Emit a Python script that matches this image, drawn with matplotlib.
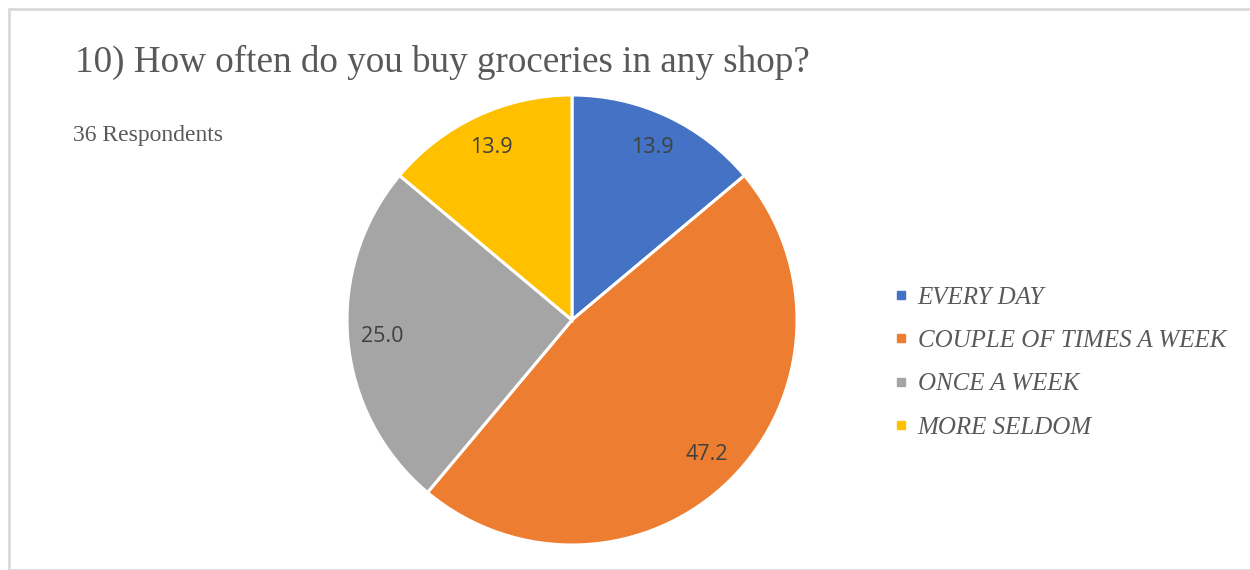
import matplotlib
matplotlib.use("Agg")
import matplotlib.pyplot as plt
from matplotlib.patches import Rectangle
from matplotlib.lines import Line2D

categories = ["EVERY DAY", "COUPLE OF TIMES A WEEK", "ONCE A WEEK", "MORE SELDOM"]
values = [13.9, 47.2, 25.0, 13.9]
colors = ["#4472C4", "#ED7D31", "#A5A5A5", "#FFC000"]
title = "10) How often do you buy groceries in any shop?"
subtitle = "36 Respondents"

W, H = 1250, 570
fig = plt.figure(figsize=(W / 100, H / 100), dpi=100)
fig.patch.set_facecolor("white")

# light chart-area frame
fig.add_artist(Rectangle((8.5 / W, 1 - 569.5 / H), (W + 20) / W, 561 / H,
                         transform=fig.transFigure, fill=False,
                         edgecolor="#d9d9d9", linewidth=2))

cx, cy, r = 572, 320, 225
ax = fig.add_axes([(cx - r) / W, 1 - (cy + r) / H, 2 * r / W, 2 * r / H])
wedges, texts = ax.pie(values, colors=colors, startangle=90, counterclock=False,
                       labels=[f"{v:.1f}" for v in values], labeldistance=0.845,
                       wedgeprops=dict(edgecolor="white", linewidth=2.2),
                       textprops=dict(fontsize=15.5, color="#404040",
                                      family="Open Sans", ha="center", va="center"))
ax.set_xlim(-1, 1)
ax.set_ylim(-1, 1)
ax.set_aspect("equal")
ax.axis("off")

fig.text(75 / W, 1 - 62 / H, title, fontsize=26.75, color="#595959",
         family="Liberation Serif", va="center", ha="left")
fig.text(73 / W, 1 - 136 / H, subtitle, fontsize=17, color="#595959",
         family="Liberation Serif", va="center", ha="left")

handles = [Line2D([0], [0], marker="s", linestyle="none", markersize=5.5,
                  markerfacecolor=c, markeredgecolor=c) for c in colors]
leg = fig.legend(handles, categories, loc="upper left",
                 bbox_to_anchor=(895 / W, 1 - 286 / H), frameon=False,
                 prop=dict(family="Liberation Serif", style="italic", size=18),
                 labelcolor="#595959", handlelength=0.45, handletextpad=0.45,
                 labelspacing=0.84, borderaxespad=0, borderpad=0)

fig.savefig("out.png", dpi=100, facecolor="white")
